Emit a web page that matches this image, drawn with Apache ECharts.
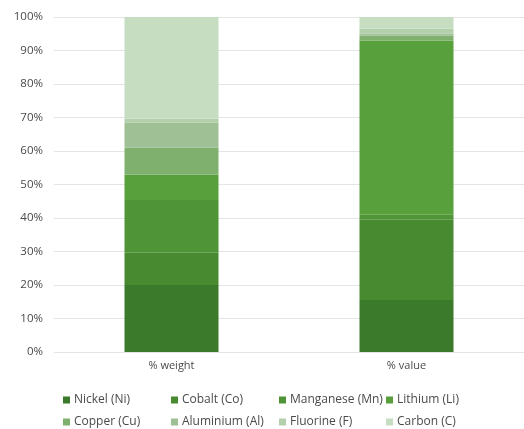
<!DOCTYPE html>
<html>
<head>
<meta charset="utf-8">
<script src="https://cdn.jsdelivr.net/npm/echarts@6/dist/echarts.min.js"></script>
<style>
    html, body { margin: 0; padding: 0; background: #fff; }
    #chart { width: 524px; height: 429px; }
</style>
</head>
<body>
<div id="chart"></div>
<script>
const categories = ["% weight", "% value"]
const elements = ["Nickel (Ni)", "Cobalt (Co)", "Manganese (Mn)", "Lithium (Li)",
    "Copper (Cu)", "Aluminium (Al)", "Fluorine (F)", "Carbon (C)"]
// share per element: [% weight, % value]
const nickel = [20.0, 15.5]
const cobalt = [9.6, 24.0]
const manganese = [15.8, 1.5]
const lithium = [7.5, 52.0]
const copper = [8.1, 1.5]
const aluminium = [7.5, 0.5]
const fluorine = [1.2, 1.5]
const carbon = [30.3, 3.5]
const yTicks = [0, 10, 20, 30, 40, 50, 60, 70, 80, 90, 100]

const colors = ["#3c7a2b", "#478a30", "#4f9436", "#57a03b", "#7fb06e", "#9fc095", "#b3cfab", "#c6ddc2"]
const values = [nickel, cobalt, manganese, lithium, copper, aluminium, fluorine, carbon]

const chart = echarts.init(document.getElementById("chart"))
const textColor = "#4a4a4a"
const font = "Open Sans, DejaVu Sans, sans-serif"

// legend laid out as a 4 x 2 table, one legend box per item
const colLeft = [58, 166, 274, 381]
const rowTop = [389, 411]
const legends = elements.map(function (name, i) {
    return {
        top: rowTop[Math.floor(i / 4)],
        left: colLeft[i % 4],
        itemWidth: 7,
        itemHeight: 7,
        itemGap: 0,
        icon: "rect",
        data: [name],
        textStyle: {
            color: textColor,
            fontSize: 12,
            fontFamily: font,
            padding: [0, 0, 0, -1]
        }
    }
})

const option = {
    animation: false,
    color: colors,
    grid: {
        left: 54,
        right: -4,
        top: 17,
        bottom: 77
    },
    legend: legends,
    xAxis: {
        type: "category",
        data: categories,
        axisLine: { show: false },
        axisTick: { show: false },
        axisLabel: {
            color: textColor,
            fontSize: 11,
            fontFamily: font,
            margin: 8
        }
    },
    yAxis: {
        type: "value",
        min: yTicks[0],
        max: yTicks[yTicks.length - 1],
        interval: 10,
        axisLine: { show: false },
        axisTick: { show: false },
        splitLine: { lineStyle: { color: "#e4e4e4" } },
        axisLabel: {
            color: textColor,
            fontSize: 11.5,
            fontFamily: font,
            margin: 11,
            formatter: "{value}%"
        }
    },
    series: elements.map(function (name, i) {
        return {
            name: name,
            type: "bar",
            stack: "total",
            barWidth: "40%",
            data: values[i]
        }
    })
}
chart.setOption(option)
</script>
</body>
</html>
